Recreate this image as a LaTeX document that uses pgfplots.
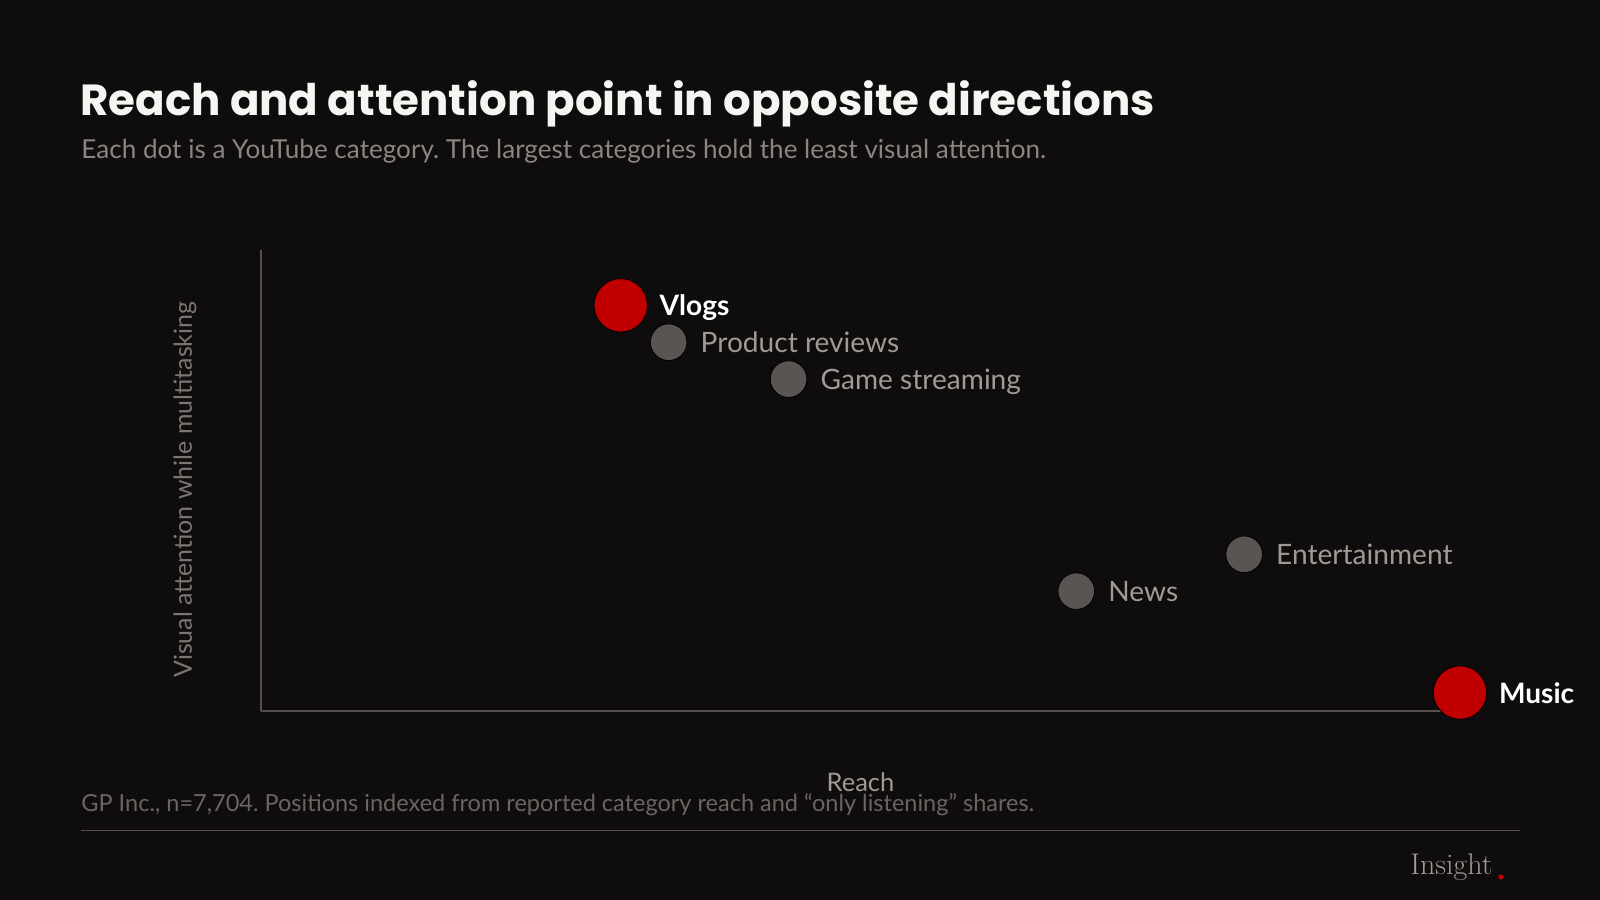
\documentclass[border=0pt]{standalone}
\usepackage{pgfplots}
\pgfplotsset{compat=1.18}
\usepackage{fontspec}
\setmainfont{Lato}
\newfontfamily\titlefont{Poppins}
\newfontfamily\logofont{Latin Modern Roman}
\frenchspacing

\definecolor{bg}{HTML}{0E0C0D}
\definecolor{titlecol}{HTML}{F7F5F2}
\definecolor{subcol}{HTML}{8C857F}
\definecolor{labcol}{HTML}{A19A93}
\definecolor{dotgray}{HTML}{5A5553}
\definecolor{hired}{HTML}{C00000}
\definecolor{ylabcol}{HTML}{7C7671}
\definecolor{notecol}{HTML}{6B6561}
\definecolor{rulecol}{HTML}{55504D}

% reach / attention indexed 0-100
\pgfplotstableread[col sep=comma]{
x,y,label
30,88,Vlogs
100,4,Music
}\highlighted
\pgfplotstableread[col sep=comma]{
x,y,label
34,80,Product reviews
44,72,Game streaming
82,34,Entertainment
68,26,News
}\others

\begin{document}
\begin{tikzpicture}
% page, in pixels of a 1600x900 frame (y down)
\fill[bg] (0,0) rectangle (800bp,-450bp);
\begin{scope}[x=0.5bp,y=-0.5bp]
  \node[anchor=base west,inner sep=0,text=titlecol,font=\titlefont\bfseries\fontsize{21.85}{26}\selectfont]
    at (80,116) {Reach and attention point in opposite directions};
  \node[anchor=base west,inner sep=0,text=subcol,font=\fontsize{13.1}{16}\selectfont]
    at (81,159) {Each dot is a YouTube category. The largest categories hold the least visual attention.};
  \node[anchor=base west,inner sep=0,text=notecol,font=\fontsize{11.8}{14}\selectfont]
    at (81,812) {GP Inc., n=7,704. Positions indexed from reported category reach and “only listening” shares.};
  \draw[rulecol,line width=0.9bp] (80.6,830.5) -- (1520,830.5);
  \node[anchor=base west,inner sep=0,text=labcol,font=\logofont\fontsize{15}{18}\selectfont]
    at (1410,875) {Insight};
  \fill[hired] (1501,877) circle (2.6);
\end{scope}

\begin{axis}[
    at={(130.5bp,-355.5bp)}, anchor=south west,
    scale only axis,
    width=599.5bp, height=230.5bp,
    xmin=0, xmax=100, ymin=0, ymax=100,
    axis x line*=bottom, axis y line*=left,
    axis line style={rulecol, line width=0.9bp, -},
    xtick=\empty, ytick=\empty,
    clip=false,
    xlabel={Reach},
    xlabel style={text=labcol, font=\fontsize{12.8}{15}\selectfont, at={(axis description cs:0.5,0)}, anchor=base, yshift=-40bp},
    ylabel={Visual attention while multitasking},
    ylabel style={text=ylabcol, font=\fontsize{12.5}{15}\selectfont, at={(axis description cs:-0.0634,0.48)}, anchor=center},
    nodes near coords,
    point meta=explicit symbolic,
]
\addplot[only marks, mark=*, mark size=9.15bp, mark options={draw=none, fill=dotgray},
    nodes near coords style={anchor=base west, text=labcol, font=\fontsize{14.1}{17}\selectfont, xshift=12.5bp, yshift=-5.3bp}]
    table[x=x, y=y, meta=label] {\others};
\addplot[only marks, mark=*, mark size=13.35bp, mark options={draw=none, fill=hired},
    nodes near coords style={anchor=base west, text=white, font=\bfseries\fontsize{14.1}{17}\selectfont, xshift=16bp, yshift=-5.3bp}]
    table[x=x, y=y, meta=label] {\highlighted};
\end{axis}
\end{tikzpicture}
\end{document}
